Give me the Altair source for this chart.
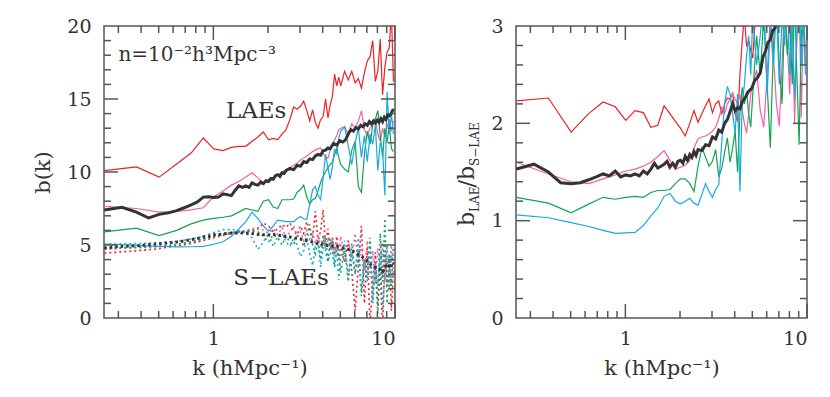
import altair as alt
import pandas as pd

# ---------------- data ----------------
# k grid of the coloured (small-box) curves, h/Mpc
K_COARSE = [0.251, 0.377, 0.503, 0.628, 0.754, 0.880, 1.005, 1.131, 1.257, 1.382,
            1.508, 1.634, 1.759, 1.885, 2.011, 2.136, 2.262, 2.388, 2.513, 2.639,
            2.765, 2.890, 3.016, 3.142, 3.267, 3.393, 3.519, 3.644, 3.770, 3.896,
            4.021, 4.147, 4.273, 4.398, 4.524, 4.650, 4.775, 4.901, 5.027,
            5.278, 5.529, 5.781, 6.032, 6.283, 6.535, 6.786, 7.037, 7.288, 7.540,
            7.791, 8.042, 8.294, 8.545, 8.796, 9.048, 9.299, 9.550, 9.802]
# k grid of the black (large-box) curves
K_FINE = [0.251, 0.314, 0.377, 0.440, 0.503, 0.565, 0.628, 0.691, 0.754, 0.817,
          0.880, 0.942, 1.005, 1.068, 1.131, 1.194, 1.257, 1.319, 1.382, 1.445,
          1.508, 1.571, 1.634, 1.696, 1.759, 1.822, 1.885, 1.948, 2.011, 2.073,
          2.136, 2.199, 2.262, 2.325, 2.388, 2.450, 2.513,
          2.639, 2.765, 2.890, 3.016, 3.142, 3.267, 3.393, 3.519, 3.644, 3.770,
          3.896, 4.021, 4.147, 4.273, 4.398,
          4.587, 4.775, 4.964, 5.152, 5.341, 5.529, 5.718, 5.906, 6.095, 6.283,
          6.472, 6.660, 6.849, 7.037, 7.226, 7.414, 7.603, 7.791, 7.980, 8.168,
          8.357, 8.545, 8.734, 8.922, 9.111, 9.299, 9.488, 9.676, 9.865]

# ---- left panel: b(k) of LAEs (solid) ----
LAE_RED = [10.1, 10.35, 9.65, 10.55, 11.3, 12.33, 11.58, 11.47, 11.69, 11.75,
           11.76, 12.1, 12.4, 12.74, 12.2, 12.3, 12.22, 12.6, 12.9, 13.6,
           14.45, 14.3, 14.5, 14.85, 14.2, 13.5, 14.25, 13.4, 13.0, 13.6,
           13.8, 15.0, 13.7, 14.6, 15.2, 16.7, 15.9, 16.5, 15.9,
           16.9, 16.3, 16.9, 16.1, 16.4, 15.75, 16.8, 17.6, 17.9, 19.0,
           16.2, 16.9, 19.1, 15.3, 17.2, 18.2, 18.5, 21.0, 16.2]
LAE_PINK = [7.65, 7.5, 7.25, 7.3, 7.4, 7.55, 8.3, 8.7, 9.1, 9.35,
            9.65, 9.95, 9.6, 9.25, 9.3, 9.6, 9.8, 10.0, 10.15, 10.3,
            10.45, 10.6, 10.8, 10.95, 11.1, 11.25, 11.4, 11.5, 11.6, 11.65,
            11.3, 11.0, 10.95, 11.5, 11.9, 12.2, 12.5, 12.9, 13.0,
            13.1, 12.6, 13.3, 13.0, 13.5, 14.2, 12.9, 12.5, 13.0, 13.2,
            13.7, 12.6, 12.1, 13.0, 12.4, 13.1, 13.6, 12.8, 13.5]
LAE_GREEN = [5.9, 6.15, 5.65, 6.0, 6.45, 6.7, 6.82, 6.9, 7.0, 7.25,
             7.5, 7.4, 7.3, 8.0, 8.1, 7.6, 7.5, 8.1, 8.1, 8.1,
             8.15, 8.6, 8.8, 9.1, 8.3, 7.8, 8.1, 8.2, 8.7, 9.3,
             9.7, 10.0, 10.3, 10.5, 10.7, 11.2, 11.6, 11.0, 10.5,
             10.2, 10.0, 11.5, 12.1, 9.0, 8.6, 11.2, 12.8, 11.9, 13.2,
             13.6, 14.2, 12.5, 11.0, 13.0, 12.0, 13.3, 11.6, 11.4]
LAE_BLUE = [5.07, 4.97, 4.9, 4.87, 4.88, 4.91, 5.05, 5.22, 5.6, 6.1,
            6.6, 7.25, 6.8, 6.3, 5.95, 6.3, 6.7, 6.65, 6.6, 6.6,
            6.6, 6.8, 6.95, 6.8, 6.75, 7.8, 8.8, 9.0, 8.4, 8.1,
            9.6, 11.2, 10.3, 9.5, 10.4, 11.6, 11.2, 12.3, 12.8,
            13.1, 11.8, 10.5, 12.0, 13.0, 11.0, 12.5, 10.7, 12.6, 11.9,
            13.2, 10.1, 12.0, 11.5, 8.4, 15.5, 12.6, 14.0, 12.6]
LAE_BLACK = [7.40, 7.58, 7.25, 6.85, 7.10, 7.20, 7.35, 7.55, 7.75, 7.95,
             8.28, 8.30, 8.25, 8.28, 8.50, 8.45, 8.38, 8.75, 9.05, 8.95,
             9.05, 8.95, 9.25, 9.15, 9.10, 9.30, 9.20, 9.40, 9.35, 9.55,
             9.50, 9.75, 9.82, 9.70, 9.95, 9.90, 10.10,
             10.25, 10.15, 10.45, 10.40, 10.70, 10.65, 10.90, 10.85, 11.10, 11.20,
             11.15, 11.45, 11.50, 11.65, 11.60,
             11.95, 11.85, 12.15, 12.05, 12.20, 12.60, 12.90, 12.80, 13.05, 12.95,
             13.20, 13.10, 13.30, 13.20, 13.45, 13.30, 13.50, 13.35, 13.55, 13.40,
             13.65, 13.45, 13.75, 13.60, 13.90, 13.85, 13.95, 14.20, 14.30]

# ---- left panel: b(k) of S-LAEs (dotted) ----
SLAE_RED = [4.45, 4.6, 4.75, 4.95, 5.1, 5.3, 5.5, 5.65, 5.8, 5.9,
            5.95, 6.0, 6.1, 6.5, 6.3, 5.9, 6.1, 6.4, 6.2, 6.5,
            6.0, 5.7, 6.3, 5.8, 6.6, 6.0, 5.5, 7.3, 5.2, 6.0,
            7.4, 5.0, 6.1, 4.6, 5.5, 4.3, 5.6, 4.0, 5.0,
            3.8, 5.3, 3.2, 0.5, 3.5, 6.3, 1.0, 4.8, -0.5, 2.5,
            4.5, 0.8, 3.5, -1.0, 4.6, 2.2, 4.1, 0.5, 3.2]
SLAE_PINK = [4.7, 4.8, 4.9, 5.05, 5.2, 5.4, 5.6, 5.75, 5.85, 5.95,
             6.0, 6.1, 6.2, 6.0, 5.8, 6.1, 5.7, 6.2, 5.5, 5.9,
             6.3, 5.6, 5.9, 5.3, 6.0, 5.4, 5.8, 5.1, 5.6, 4.9,
             5.7, 4.7, 5.3, 4.8, 5.5, 4.4, 5.2, 4.5, 5.6,
             4.2, 5.4, 3.9, 5.8, 3.6, 5.0, 3.0, 5.3, 2.8, 4.6,
             2.4, 4.8, 3.0, 5.2, 2.5, 4.1, 3.3, 5.0, 3.0]
SLAE_GREEN = [4.8, 4.85, 4.9, 5.0, 5.2, 5.4, 5.6, 5.75, 5.85, 5.9,
              5.9, 5.95, 5.9, 5.6, 5.2, 5.7, 5.5, 5.0, 5.6, 5.2,
              5.0, 5.7, 5.4, 4.9, 5.6, 6.4, 5.0, 4.4, 5.3, 4.0,
              5.6, 4.6, 3.8, 5.4, 4.5, 3.5, 5.0, 4.2, 3.1,
              4.8, 2.5, 5.1, 3.0, 4.6, 1.5, 4.0, 2.8, 5.5, 1.2,
              3.6, 0.3, 5.8, 2.5, 6.8, 1.0, 4.4, 2.2, 5.0]
SLAE_BLUE = [5.05, 5.1, 5.15, 5.25, 5.4, 5.6, 5.85, 6.05, 6.05, 6.0,
             5.8, 5.5, 4.7, 5.2, 5.8, 4.9, 5.6, 5.8, 5.2, 4.9,
             5.5, 5.0, 4.2, 4.6, 5.5, 4.4, 3.6, 4.9, 5.2, 3.5,
             4.8, 5.6, 3.9, 4.3, 5.4, 3.6, 4.6, 2.6, 4.2,
             5.3, 2.9, 4.5, 3.0, 5.5, 1.8, 4.0, 2.5, 5.0, 1.0,
             3.8, 2.2, 4.5, 0.5, 3.0, 5.0, 2.0, 4.3, 3.5]
SLAE_BLACK = [4.79, 4.91, 4.95, 5.02, 5.08, 5.15, 5.20, 5.28, 5.37, 5.45,
              5.55, 5.60, 5.70, 5.72, 5.75, 5.80, 5.82, 5.80, 5.85, 5.82,
              5.80, 5.83, 5.78, 5.76, 5.72, 5.74, 5.70, 5.73, 5.70, 5.68,
              5.72, 5.70, 5.70, 5.65, 5.68, 5.60, 5.60,
              5.55, 5.50, 5.45, 5.42, 5.35, 5.30, 5.25, 5.20, 5.15, 5.05,
              5.10, 5.00, 5.02, 4.95, 4.98,
              4.90, 4.92, 4.85, 4.80, 4.75, 4.70, 4.65, 4.55, 4.50, 4.35,
              4.25, 4.15, 4.05, 3.90, 3.75, 3.60, 3.50, 3.45, 3.35, 3.30,
              3.40, 3.20, 3.50, 3.55, 3.40, 3.65, 3.50, 3.80, 3.70]

# ---- right panel: b_LAE / b_S-LAE ----
RATIO_RED = [2.23, 2.26, 1.91, 2.10, 2.22, 2.17, 2.03, 2.13, 2.11, 1.96,
             1.98, 2.18, 2.10, 2.02, 1.95, 1.87, 2.00, 2.13, 2.01, 2.10,
             2.18, 2.25, 2.11, 2.20, 2.23, 2.10, 2.20, 2.26, 2.25, 2.31,
             2.10, 2.02, 2.50, 2.85, 3.10, 2.79, 2.85, 2.75, 2.67,
             3.30, 3.10, 2.95, 3.40, 3.20, 3.50, 3.10, 3.60, 3.30, 3.80,
             3.20, 3.50, 4.00, 3.10, 3.60, 3.30, 4.00, 3.20, 3.60]
RATIO_PINK = [1.60, 1.48, 1.40, 1.38, 1.43, 1.47, 1.51, 1.53, 1.56, 1.60,
              1.66, 1.72, 1.62, 1.53, 1.55, 1.57, 1.62, 1.75, 1.84, 1.86,
              1.87, 1.89, 1.92, 1.96, 2.05, 2.16, 2.10, 2.20, 2.25, 2.30,
              2.25, 2.20, 2.30, 2.13, 2.00, 1.90, 2.10, 2.30, 2.40,
              2.55, 2.13, 1.96, 2.50, 3.10, 2.70, 2.20, 1.97, 2.60, 3.30,
              2.80, 2.30, 3.20, 2.00, 2.90, 3.40, 2.06, 3.10, 2.74]
RATIO_GREEN = [1.24, 1.18, 1.08, 1.17, 1.24, 1.22, 1.24, 1.25, 1.24, 1.29,
               1.31, 1.31, 1.32, 1.38, 1.43, 1.43, 1.38, 1.30, 1.56, 1.75,
               1.65, 1.56, 1.61, 1.73, 1.45, 1.54, 1.70, 1.85, 1.60, 1.75,
               1.92, 1.50, 2.10, 2.37, 2.20, 2.33, 2.10, 1.96, 2.30,
               2.90, 2.50, 3.10, 2.40, 1.75, 2.80, 3.30, 2.60, 2.20, 3.20,
               2.70, 3.10, 2.40, 3.30, 2.50, 1.78, 2.90, 3.20, 2.60]
RATIO_BLUE = [1.06, 1.03, 0.98, 0.94, 0.90, 0.87, 0.875, 0.88, 0.95, 1.05,
              1.13, 1.25, 1.28, 1.20, 1.17, 1.20, 1.23, 1.18, 1.16, 1.27,
              1.38, 1.30, 1.24, 1.32, 1.37, 1.80, 2.20, 2.38, 2.30, 2.10,
              1.90, 2.30, 1.30, 2.20, 2.40, 2.70, 2.90, 2.50, 3.10,
              2.60, 2.90, 3.30, 2.30, 3.00, 2.60, 3.20, 2.40, 3.10, 2.80,
              3.40, 2.50, 3.00, 2.26, 2.90, 3.30, 2.60, 3.10, 2.50]
RATIO_BLACK = [1.53, 1.58, 1.50, 1.39, 1.38, 1.39, 1.42, 1.45, 1.48, 1.46,
               1.51, 1.45, 1.47, 1.46, 1.48, 1.46, 1.51, 1.48, 1.53, 1.59,
               1.54, 1.56, 1.58, 1.61, 1.55, 1.59, 1.55, 1.61, 1.62, 1.59,
               1.66, 1.62, 1.68, 1.65, 1.71, 1.67, 1.73,
               1.72, 1.78, 1.77, 1.86, 1.84, 1.93, 1.91, 2.00, 2.04, 2.12,
               2.20, 2.13, 2.16, 2.15, 2.22,
               2.27, 2.33, 2.36, 2.44, 2.47, 2.52, 2.68, 2.74, 2.83, 2.86,
               2.95, 2.98, 3.05, 3.10, 3.15, 3.20, 3.25, 3.30, 3.30, 3.35,
               3.40, 3.40, 3.45, 3.50, 3.50, 3.55, 3.60, 3.60, 3.65]

SERIES = ["red", "pink", "green", "blue"]
COLORS = ["#ec2227", "#ef62a6", "#0fa650", "#18a9e3"]
BLACK = "#333333"

# tick positions
X_MAJOR_TICKS = [1, 10]
X_MINOR_TICKS = [0.3, 0.4, 0.5, 0.6, 0.7, 0.8, 0.9, 2, 3, 4, 5, 6, 7, 8, 9]
LEFT_Y_MAJOR = [5, 10, 15]
LEFT_Y_MINOR = [1, 2, 3, 4, 6, 7, 8, 9, 11, 12, 13, 14, 16, 17, 18, 19]
RIGHT_Y_MAJOR = [1, 2]
RIGHT_Y_MINOR = [0.2, 0.4, 0.6, 0.8, 1.2, 1.4, 1.6, 1.8, 2.2, 2.4, 2.6, 2.8]
LEFT_Y_LABELS = [0, 5, 10, 15, 20]
RIGHT_Y_LABELS = [0, 1, 2, 3]

# ---------------- style ----------------
FONT = "DejaVu Serif"
TXT = "#333333"
W, H = 291, 292
MAJ, MIN = 14, 7
TICK_COLOR = "#555555"

XSCALE = alt.Scale(type="log", domain=[0.25, 10], nice=False)
XAXIS = alt.Axis(values=X_MAJOR_TICKS, format="~g", title="k (hMpc⁻¹)",
                 labelPadding=11, titlePadding=9)


def coloured(k, lists):
    rows = []
    for name, vals in zip(SERIES, lists):
        for kk, v in zip(k, vals):
            rows.append({"k": kk, "b": v, "s": name})
    return pd.DataFrame(rows)


def black(k, vals):
    return pd.DataFrame({"k": k, "b": vals})


def panel(yscale, yaxis, solid, dotted, black_solid, black_dotted, y_major, y_minor, texts, extra):
    color = alt.Color("s:N", scale=alt.Scale(domain=SERIES, range=COLORS), legend=None)
    x = alt.X("k:Q", scale=XSCALE, axis=XAXIS)
    y = alt.Y("b:Q", scale=yscale, axis=yaxis)
    layers = []
    if dotted is not None:
        layers.append(alt.Chart(dotted).mark_line(strokeWidth=1.6, strokeDash=[2, 3], clip=True)
                      .encode(x=x, y=y, color=color, detail="s:N"))
    layers.append(alt.Chart(solid).mark_line(strokeWidth=1.2, clip=True)
                  .encode(x=x, y=y, color=color, detail="s:N"))
    if black_dotted is not None:
        layers.append(alt.Chart(black_dotted).mark_line(strokeWidth=3, strokeDash=[2.5, 3],
                                                        color=BLACK, clip=True).encode(x=x, y=y))
    layers.append(alt.Chart(black_solid).mark_line(strokeWidth=3, color=BLACK, clip=True)
                  .encode(x=x, y=y))
    # inward ticks on all four sides
    for vals, ln in ((X_MAJOR_TICKS, MAJ), (X_MINOR_TICKS, MIN)):
        d = pd.DataFrame({"k": vals})
        layers.append(alt.Chart(d).mark_rule(color=TICK_COLOR, strokeWidth=1.5)
                      .encode(x=x, y=alt.value(0), y2=alt.value(ln)))
        layers.append(alt.Chart(d).mark_rule(color=TICK_COLOR, strokeWidth=1.5)
                      .encode(x=x, y=alt.value(H), y2=alt.value(H - ln)))
    for vals, ln in ((y_major, MAJ), (y_minor, MIN)):
        d = pd.DataFrame({"b": vals})
        layers.append(alt.Chart(d).mark_rule(color=TICK_COLOR, strokeWidth=1.5)
                      .encode(y=y, x=alt.value(0), x2=alt.value(ln)))
        layers.append(alt.Chart(d).mark_rule(color=TICK_COLOR, strokeWidth=1.5)
                      .encode(y=y, x=alt.value(W), x2=alt.value(W - ln)))
    for (kk, bb, label, size, align) in texts:
        d = pd.DataFrame({"k": [kk], "b": [bb], "t": [label]})
        layers.append(alt.Chart(d).mark_text(font=FONT, fontSize=size, align=align,
                                             baseline="middle", color=TXT)
                      .encode(x=x, y=y, text="t:N"))
    layers.extend(extra)
    return alt.layer(*layers).properties(width=W, height=H)


left = panel(
    alt.Scale(domain=[0, 20], nice=False, zero=False),
    alt.Axis(values=LEFT_Y_LABELS, title="b(k)", labelPadding=13, titlePadding=13),
    coloured(K_COARSE, [LAE_RED, LAE_PINK, LAE_GREEN, LAE_BLUE]),
    coloured(K_COARSE, [SLAE_RED, SLAE_PINK, SLAE_GREEN, SLAE_BLUE]),
    black(K_FINE, LAE_BLACK),
    black(K_FINE, SLAE_BLACK),
    LEFT_Y_MAJOR, LEFT_Y_MINOR,
    [(0.30, 18.0, "n=10⁻²h³Mpc⁻³", 20, "left"),
     (1.72, 14.15, "LAEs", 23, "center"),
     (2.36, 2.75, "S−LAEs", 23, "center")],
    [],
)

ANCHOR = pd.DataFrame({"a": [0]})


def title_piece(text, size, px, py):
    return (alt.Chart(ANCHOR)
            .mark_text(text=text, font=FONT, fontSize=size, angle=270, align="left",
                       baseline="alphabetic", color=TXT)
            .encode(x=alt.value(px), y=alt.value(py)))


right_title = [
    title_piece("b", 22, -42, 200),
    title_piece("LAE", 12, -37, 186),
    title_piece("/b", 22, -42, 161.5),
    title_piece("S−LAE", 12, -37, 140),
]

right = panel(
    alt.Scale(domain=[0, 3], nice=False, zero=False),
    alt.Axis(values=RIGHT_Y_LABELS, title=None, labelPadding=13),
    coloured(K_COARSE, [RATIO_RED, RATIO_PINK, RATIO_GREEN, RATIO_BLUE]),
    None,
    black(K_FINE, RATIO_BLACK),
    None,
    RIGHT_Y_MAJOR, RIGHT_Y_MINOR,
    [],
    right_title,
)

chart = (
    alt.hconcat(left, right, spacing=58)
    .properties(padding={"left": 24, "top": 8, "right": 0, "bottom": 0})
    .configure_view(stroke="#555555", strokeWidth=1.5)
    .configure_axis(domain=False, ticks=False, tickSize=0, grid=False,
                    labelFont=FONT, labelFontSize=19, labelColor=TXT,
                    titleFont=FONT, titleFontSize=21, titleFontWeight="normal",
                    titleColor=TXT)
)

chart.save("out.html", embed_options={"renderer": "svg", "actions": False})
